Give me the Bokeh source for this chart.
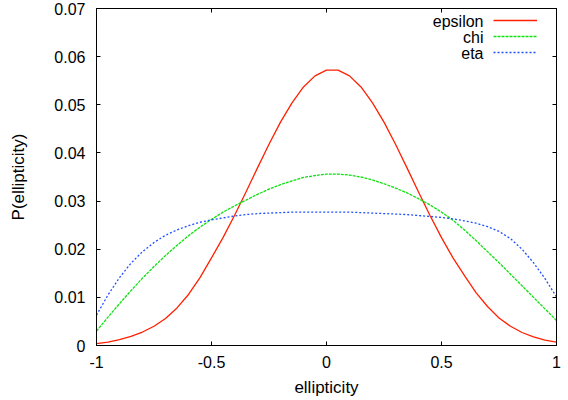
from bokeh.plotting import figure
from bokeh.models import FixedTicker, LinearAxis, Legend, LegendItem, Label, Range1d
from bokeh.embed import file_html
from bokeh.resources import INLINE

# ---- data ----
x = [-1.00, -0.95, -0.90, -0.85, -0.80, -0.75, -0.70, -0.65, -0.60, -0.55,
     -0.50, -0.45, -0.40, -0.35, -0.30, -0.25, -0.20, -0.15, -0.10, -0.05,
     0.00, 0.05, 0.10, 0.15, 0.20, 0.25, 0.30, 0.35, 0.40, 0.45,
     0.50, 0.55, 0.60, 0.65, 0.70, 0.75, 0.80, 0.85, 0.90, 0.95, 1.00]

epsilon = [0.0004, 0.0007, 0.0012, 0.0019, 0.0028, 0.0040, 0.0056, 0.0078, 0.0106, 0.0141,
           0.0182, 0.0224, 0.0270, 0.0319, 0.0369, 0.0418, 0.0464, 0.0504, 0.0537, 0.0560,
           0.0572, 0.0572, 0.0560, 0.0537, 0.0504, 0.0464, 0.0418, 0.0369, 0.0319, 0.0270,
           0.0224, 0.0182, 0.0145, 0.0110, 0.0081, 0.0057, 0.0040, 0.0027, 0.0018, 0.0011, 0.0007]

chi = [0.0030, 0.0059, 0.0087, 0.0114, 0.0140, 0.0164, 0.0187, 0.0208, 0.0228, 0.0246,
       0.0262, 0.0277, 0.0290, 0.0302, 0.0314, 0.0325, 0.0334, 0.0342, 0.0349, 0.0353,
       0.0356, 0.0356, 0.0354, 0.0350, 0.0344, 0.0336, 0.0327, 0.0317, 0.0305, 0.0292,
       0.0277, 0.0260, 0.0240, 0.0218, 0.0195, 0.0172, 0.0148, 0.0124, 0.0100, 0.0076, 0.0052]

eta = [0.0063, 0.0105, 0.0141, 0.0171, 0.0195, 0.0214, 0.0229, 0.0240, 0.0249, 0.0256,
       0.0261, 0.0265, 0.0269, 0.0272, 0.0274, 0.0275, 0.0276, 0.0277, 0.0277, 0.0277,
       0.0277, 0.0277, 0.0277, 0.0276, 0.0275, 0.0274, 0.0273, 0.0272, 0.0270, 0.0268,
       0.0266, 0.0263, 0.0259, 0.0254, 0.0247, 0.0237, 0.0222, 0.0200, 0.0172, 0.0139, 0.0101]

series_names = ["epsilon", "chi", "eta"]
x_ticks = [-1, -0.5, 0, 0.5, 1]
x_tick_labels = ["-1", "-0.5", "0", "0.5", "1"]
y_ticks = [0, 0.01, 0.02, 0.03, 0.04, 0.05, 0.06, 0.07]
y_tick_labels = ["0", "0.01", "0.02", "0.03", "0.04", "0.05", "0.06", "0.07"]
x_title = "ellipticity"
y_title = "P(ellipticity)"

FONT = "Liberation Sans"
FS_TICK = "16px"
FS_TITLE = "17px"
colors = ["#ff2000", "#10e010", "#2050ff"]
dashes = ["solid", "3 1", "2 2"]

p = figure(width=564, height=400, x_range=Range1d(-1, 1), y_range=Range1d(0, 0.07),
           output_backend="svg", toolbar_location=None,
           min_border_left=96, min_border_right=8, min_border_top=8, min_border_bottom=55)
p.xgrid.visible = False
p.ygrid.visible = False
p.outline_line_color = "black"
p.outline_line_width = 1
p.background_fill_color = "white"
p.border_fill_color = "white"


def style_axis(ax, ticks, labels, show_labels=True):
    ax.ticker = FixedTicker(ticks=ticks)
    ax.major_label_overrides = {t: l for t, l in zip(ticks, labels)}
    ax.major_tick_in = 4
    ax.major_tick_out = 0
    ax.major_tick_line_color = "black"
    ax.minor_tick_line_color = None
    ax.axis_line_color = "black"
    ax.major_label_text_font = FONT
    ax.major_label_text_font_size = FS_TICK if show_labels else "1px"
    ax.major_label_text_color = "black"
    ax.axis_label_text_font = FONT
    ax.axis_label_text_font_size = FS_TITLE
    ax.axis_label_text_font_style = "normal"
    ax.axis_label_text_color = "black"
    if not show_labels:
        ax.major_label_text_alpha = 0
        ax.major_label_standoff = 0


style_axis(p.xaxis[0], x_ticks, x_tick_labels)
style_axis(p.yaxis[0], y_ticks, y_tick_labels)
p.xaxis[0].axis_label = x_title
p.yaxis[0].axis_label = y_title
p.xaxis[0].major_label_standoff = 10
p.yaxis[0].major_label_standoff = 11
p.xaxis[0].axis_label_standoff = 7
p.yaxis[0].axis_label_standoff = 23

right = LinearAxis()
style_axis(right, y_ticks, y_tick_labels, show_labels=False)
p.add_layout(right, "right")
top = LinearAxis()
style_axis(top, x_ticks, x_tick_labels, show_labels=False)
p.add_layout(top, "above")

renderers = []
for ys, c, d in zip([epsilon, chi, eta], colors, dashes):
    r = p.line(x, ys, line_color=c, line_width=1.3, line_dash=d)
    renderers.append(r)

legend = Legend(items=[LegendItem(label=n, renderers=[r]) for n, r in zip(series_names, renderers)],
                location=(397, 285), glyph_width=44, glyph_height=16, label_height=16,
                label_width=0, spacing=0, padding=0, margin=0, label_standoff=0,
                label_text_font_size="1px", label_text_alpha=0,
                border_line_color=None, background_fill_alpha=0)
p.add_layout(legend)

row_y = [324, 308, 292]
for n, yy in zip(series_names, row_y):
    p.add_layout(Label(x=387, y=yy, x_units="screen", y_units="screen", text=n,
                       text_align="right", text_baseline="middle",
                       text_font=FONT, text_font_size=FS_TICK, text_color="black"))

open("out.html", "w").write(file_html(p, INLINE))
